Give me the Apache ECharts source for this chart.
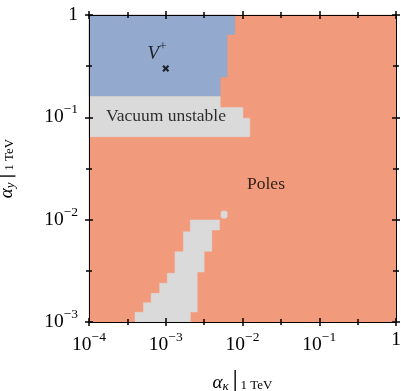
<!DOCTYPE html>
<html><head><meta charset="utf-8">
<script src="https://cdn.jsdelivr.net/npm/echarts@6/dist/echarts.min.js"></script>
<style>html,body{margin:0;padding:0;background:#fff}#c{width:401px;height:391px}</style>
</head><body><div id="c"></div>
<script>
// ---- data (log10 of alpha_kappa, log10 of alpha_y) ----
const xRangeExp = [-4, 0];
const yRangeExp = [-3, 0];
// region boundaries (vertices in log10 units)
const polesRegion = [[-4,-3],[0,-3],[0,0],[-4,0]];
const stableRegion = [[-4,0],[-2.10,0],[-2.10,-0.19],[-2.20,-0.19],[-2.20,-0.605],[-2.29,-0.605],[-2.29,-0.796],[-4,-0.796]];
const unstableUpper = [[-4,-0.796],[-2.29,-0.796],[-2.29,-0.903],[-1.995,-0.903],[-1.995,-1.008],[-1.905,-1.008],[-1.905,-1.19],[-4,-1.19]];
const unstableLower = [[-3.40,-3.0],[-3.40,-2.905],[-3.29,-2.905],[-3.29,-2.811],[-3.19,-2.811],[-3.19,-2.72],[-3.08,-2.72],[-3.08,-2.622],[-2.98,-2.622],[-2.98,-2.524],[-2.88,-2.524],[-2.88,-2.313],[-2.77,-2.313],[-2.77,-2.118],[-2.68,-2.118],[-2.68,-2.003],[-2.30,-2.003],[-2.30,-2.101],[-2.40,-2.101],[-2.40,-2.309],[-2.50,-2.309],[-2.50,-2.511],[-2.59,-2.511],[-2.59,-2.902],[-2.68,-2.902],[-2.68,-3.0]];
const unstableIsland = [[-2.28,-1.93],[-2.265,-1.915],[-2.215,-1.915],[-2.2,-1.93],[-2.2,-1.97],[-2.215,-1.985],[-2.265,-1.985],[-2.28,-1.97]];
// benchmark point V+
const benchmarkX = [1e-3];
const benchmarkY = [0.3];
// text annotations: [text, log10 x, log10 y]
const annotTexts = ['V+', 'Vacuum unstable', 'Poles'];
const annotX = [-3.114, -2.997, -1.694];
const annotY = [-0.381, -0.987, -1.651];

// ---- styles ----
const serif = 'Liberation Serif';
const colPoles = '#f29a7c', colStable = '#93a9cd', colUnstable = '#dadada';
const p10 = v => Math.pow(10, v);

function polySeries(name, pts, color) {
  return {
    type: 'custom', name: name, xAxisIndex: 0, yAxisIndex: 0, z: 2,
    data: [[p10(pts[0][0]), p10(pts[0][1])]],
    renderItem: function (params, api) {
      return { type: 'polygon',
        shape: { points: pts.map(p => api.coord([p10(p[0]), p10(p[1])])) },
        style: { fill: color, stroke: color, lineWidth: 0.5 } };
    }
  };
}

const tickRich = {
  b: { fontFamily: serif, fontSize: 19.5, color: '#000' },
  s: { fontFamily: serif, fontSize: 13.5, color: '#000', padding: [0, 0, 15, 0] }
};
function tickFmt(v) {
  const e = Math.round(Math.log10(v));
  return e === 0 ? '{b|1}' : '{b|10}{s|\u2212' + (-e) + '}';
}
function tickAxis(pos, range, inside, showLine) {
  return {
    type: 'value', position: pos, min: range[0], max: range[1], interval: 1, z: 10,
    axisLine: { show: showLine, onZero: false, lineStyle: { color: '#000', width: 1 } },
    axisTick: { show: true, inside: inside, length: 4, lineStyle: { color: '#000', width: 1.5 } },
    minorTick: { show: true, splitNumber: 2, length: 3, lineStyle: { color: '#000', width: 1.5 } },
    axisLabel: { show: false }, splitLine: { show: false }, minorSplitLine: { show: false }
  };
}
const nameRich = {
  a: { fontFamily: serif, fontStyle: 'italic', fontSize: 19, color: '#000' },
  k: { fontFamily: serif, fontStyle: 'italic', fontSize: 13, color: '#000', padding: [8, 0, 0, 0] },
  bar: { fontFamily: 'DejaVu Sans', fontSize: 18, color: '#000', padding: [0, 0, 0, 1] },
  t: { fontFamily: serif, fontSize: 13, color: '#000', padding: [6, 0, 0, 0] }
};

const option = {
  animation: false,
  backgroundColor: '#fff',
  grid: { left: 89, right: 5, top: 15, bottom: 69, containLabel: false, outerBoundsMode: 'none' },
  xAxis: [
    { type: 'log', logBase: 10, min: p10(xRangeExp[0]), max: p10(xRangeExp[1]), position: 'bottom', z: 10,
      axisLine: { show: true, onZero: false, lineStyle: { color: '#000', width: 1 } },
      axisTick: { show: false }, splitLine: { show: false },
      axisLabel: { formatter: tickFmt, rich: tickRich, margin: 8, showMinLabel: true, showMaxLabel: true },
      name: '{a|\u03b1}{k|\u03ba}{bar|\u2502}{t|1 TeV}', nameLocation: 'middle', nameGap: 50,
      nameTextStyle: { rich: nameRich } },
    tickAxis('bottom', xRangeExp, true, false),
    tickAxis('bottom', xRangeExp, false, false),
    tickAxis('top', xRangeExp, true, true),
    tickAxis('top', xRangeExp, false, false)
  ],
  yAxis: [
    { type: 'log', logBase: 10, min: p10(yRangeExp[0]), max: p10(yRangeExp[1]), position: 'left', z: 10,
      axisLine: { show: true, onZero: false, lineStyle: { color: '#000', width: 1 } },
      axisTick: { show: false }, splitLine: { show: false },
      axisLabel: { formatter: tickFmt, rich: tickRich, margin: 11, showMinLabel: true, showMaxLabel: true },
      name: '{a|\u03b1}{k|y}{bar|\u2502}{t|1 TeV}', nameLocation: 'middle', nameGap: 72, nameRotate: 90,
      nameTextStyle: { rich: nameRich } },
    tickAxis('left', yRangeExp, true, false),
    tickAxis('left', yRangeExp, false, false),
    tickAxis('right', yRangeExp, true, true),
    tickAxis('right', yRangeExp, false, false)
  ],
  series: [
    polySeries('Poles', polesRegion, colPoles),
    polySeries('Stable', stableRegion, colStable),
    polySeries('Vacuum unstable', unstableUpper, colUnstable),
    polySeries('Vacuum unstable (low)', unstableLower, colUnstable),
    polySeries('Vacuum unstable (island)', unstableIsland, colUnstable),
    { type: 'scatter', name: 'V+', xAxisIndex: 0, yAxisIndex: 0, z: 5,
      symbol: 'path://M2.2,0L5,2.8L7.8,0L10,2.2L7.2,5L10,7.8L7.8,10L5,7.2L2.2,10L0,7.8L2.8,5L0,2.2Z',
      symbolSize: 7, itemStyle: { color: '#000' },
      data: benchmarkX.map((x, i) => [x, benchmarkY[i]]) },
    { type: 'scatter', name: 'labels', xAxisIndex: 0, yAxisIndex: 0, z: 6,
      symbolSize: 1, itemStyle: { color: 'rgba(0,0,0,0)' },
      data: annotTexts.map((t, i) => [p10(annotX[i]), p10(annotY[i]), t]),
      label: { show: true, position: 'inside', color: '#000',
        formatter: p => p.value[2] === 'V+' ? '{v|V}{sp|+}' : '{n|' + p.value[2] + '}',
        rich: {
          n: { fontFamily: serif, fontSize: 17.5, color: '#000' },
          v: { fontFamily: serif, fontStyle: 'italic', fontSize: 19, color: '#000' },
          sp: { fontFamily: serif, fontSize: 13, color: '#000', padding: [0, 0, 14, 0] }
        } } }
  ]
};
const chart = echarts.init(document.getElementById('c'), null, { renderer: 'canvas' });
chart.setOption(option);
</script></body></html>
